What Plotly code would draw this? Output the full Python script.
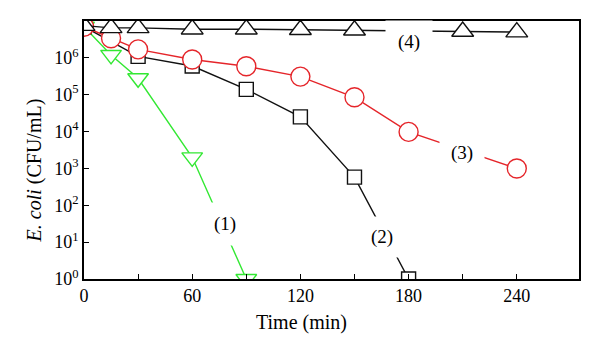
import plotly.graph_objects as go

# Time points (min)
t4 = [0, 15, 30, 60, 90, 120, 150, 180, 210, 240]
y4 = [7.5e6, 6.5e6, 6.5e6, 6.0e6, 6.0e6, 5.8e6, 5.6e6, 5.4e6, 5.2e6, 5.0e6]

t3 = [0, 15, 30, 60, 90, 120, 150, 180, 240]
y3 = [7.0e6, 3.4e6, 1.7e6, 9.0e5, 5.9e5, 3.1e5, 8.5e4, 9.8e3, 1.0e3]

t2 = [0, 30, 60, 90, 120, 150, 180]
y2 = [7.0e6, 1.1e6, 6.0e5, 1.4e5, 2.5e4, 5.8e2, 1.0]

t1 = [0, 15, 30, 60, 90]
y1 = [7.0e6, 1.2e6, 2.8e5, 2.0e3, 1.0]

x_ticks = [0, 60, 120, 180, 240]
x_minor = [30, 90, 150, 210]
y_tickvals = [1, 10, 100, 1e3, 1e4, 1e5, 1e6]
y_ticktext = ["10<sup>0</sup>", "10<sup>1</sup>", "10<sup>2</sup>", "10<sup>3</sup>",
              "10<sup>4</sup>", "10<sup>5</sup>", "10<sup>6</sup>"]

labels = ["(1)", "(2)", "(3)", "(4)"]
label_x = [78.3, 165.2, 209.5, 180]
label_y = [1.49, 1.14, 3.42, 6.43]

FONT = "Liberation Serif"
GREEN = "#33e833"
RED = "#e5252a"
BLACK = "#111111"

fig = go.Figure()
fig.add_trace(go.Scatter(x=t1, y=y1, mode="lines+markers",
                         line=dict(color=GREEN, width=1.4),
                         marker=dict(symbol="triangle-down", size=18, color="white",
                                     line=dict(color=GREEN, width=1.4))))
fig.add_trace(go.Scatter(x=t2, y=y2, mode="lines+markers",
                         line=dict(color=BLACK, width=1.4),
                         marker=dict(symbol="square", size=14, color="white",
                                     line=dict(color=BLACK, width=1.4))))
fig.add_trace(go.Scatter(x=t3, y=y3, mode="lines+markers",
                         line=dict(color=RED, width=1.4),
                         marker=dict(symbol="circle", size=19, color="white",
                                     line=dict(color=RED, width=1.4))))
fig.add_trace(go.Scatter(x=t4, y=y4, mode="lines+markers",
                         line=dict(color=BLACK, width=1.4),
                         marker=dict(symbol="triangle-up", size=19, color="white",
                                     line=dict(color=BLACK, width=1.4))))

box_sizes = [(28, 40), (32, 38), (42, 26), (44, 40)]
for txt, lx, ly, (bw, bh) in zip(labels, label_x, label_y, box_sizes):
    fig.add_annotation(x=lx, y=ly, xref="x", yref="y", text=txt, showarrow=False,
                       xanchor="center", yanchor="middle",
                       font=dict(family=FONT, size=19, color="black"),
                       bgcolor="white", width=bw, height=bh)

L, R, T, B = 83.6, 21, 21, 75
pw, ph = 600 - L - R, 354 - T - B

# axis titles (positions given in pixels, converted to paper coordinates)
fig.add_annotation(x=(301 - L) / pw, y=1 - (322 - T) / ph, xref="paper", yref="paper",
                   text="Time (min)", showarrow=False, xanchor="center", yanchor="middle",
                   font=dict(family=FONT, size=20, color="black"))
fig.add_annotation(x=(34 - L) / pw, y=1 - (170 - T) / ph, xref="paper", yref="paper",
                   text="<i>E. coli</i> (CFU/mL)", textangle=-90, showarrow=False,
                   xanchor="center", yanchor="middle",
                   font=dict(family=FONT, size=20, color="black"))

fig.update_layout(
    width=600, height=354,
    margin=dict(l=L, r=R, t=T, b=B),
    paper_bgcolor="white", plot_bgcolor="white",
    showlegend=False,
    font=dict(family=FONT, size=18, color="black"),
)
fig.update_xaxes(range=[0, 274.5], tickvals=x_ticks + x_minor,
                 ticktext=[str(v) for v in x_ticks] + [""] * len(x_minor),
                 ticks="inside", ticklen=5, tickwidth=1.4, tickcolor="black",
                 showline=True, linecolor="black", linewidth=1.6, mirror=True,
                 showgrid=False, zeroline=False,
                 tickfont=dict(family=FONT, size=18))
fig.update_yaxes(type="log", range=[0, 7], tickvals=y_tickvals, ticktext=y_ticktext,
                 ticks="inside", ticklen=5, tickwidth=1.4, tickcolor="black",
                 showline=True, linecolor="black", linewidth=1.6, mirror=True,
                 showgrid=False, zeroline=False,
                 tickfont=dict(family=FONT, size=18))

fig.write_html("out.html")
